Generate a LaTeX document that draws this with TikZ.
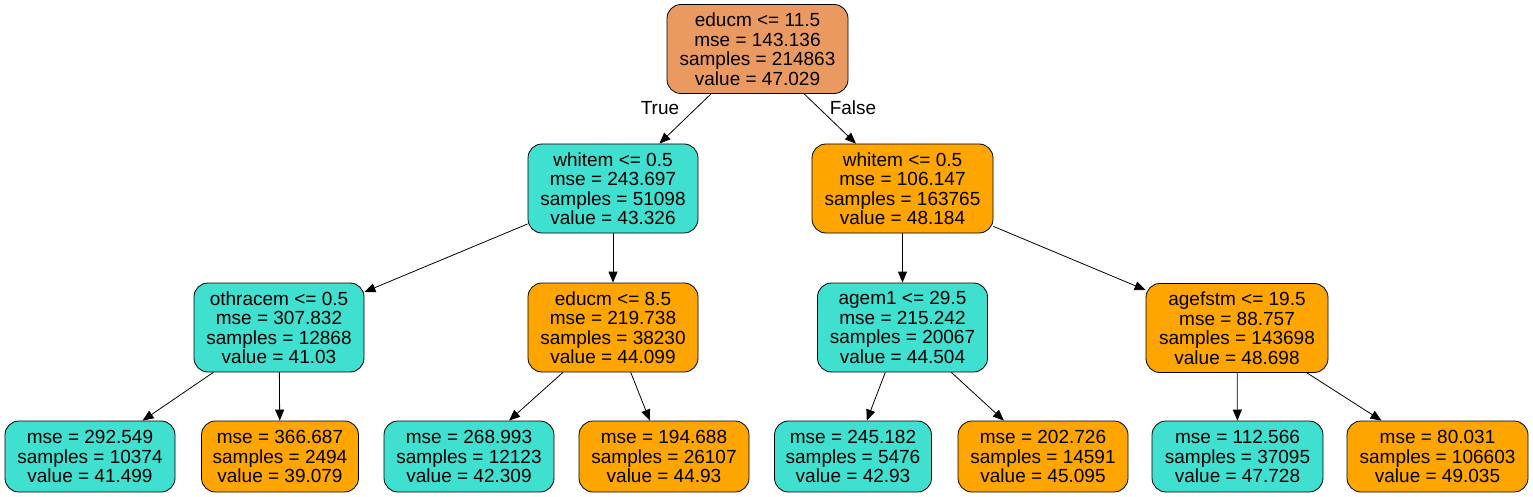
\documentclass[tikz,border=0pt]{standalone}
\usepackage{fontspec}
\setmainfont{Liberation Sans}
\usetikzlibrary{arrows.meta}
\definecolor{turq}{HTML}{40E0D0}
\definecolor{orng}{HTML}{FFA500}
\definecolor{rootc}{HTML}{EA9A60}
\begin{document}
\begin{tikzpicture}[x=1pt,y=-1pt,
  tnode/.style={draw=black, line width=0.8pt, rounded corners=14pt, align=center, inner sep=0pt,
    font=\fontsize{19}{19.5}\selectfont, text=black},
  four/.style={tnode, minimum height=89pt},
  three/.style={tnode, minimum height=71pt},
  tq/.style={fill=turq},
  og/.style={fill=orng},
  edge/.style={draw=black, line width=0.8pt, -{Triangle[length=11pt,width=9pt]}},
  elab/.style={font=\fontsize{19}{19.5}\selectfont, text=black}]
\useasboundingbox (0,0) rectangle (1533,497);
\fill[white] (0,0) rectangle (1533,497);
% level 1
\node[four, fill=rootc, minimum width=181pt] (n0) at (757.5,49) {educm <= 11.5\\mse = 143.136\\samples = 214863\\value = 47.029};
% level 2
\node[four, tq, minimum width=170pt] (n1) at (613,188.5) {whitem <= 0.5\\mse = 243.697\\samples = 51098\\value = 43.326};
\node[four, og, minimum width=181pt] (n8) at (902.5,188.5) {whitem <= 0.5\\mse = 106.147\\samples = 163765\\value = 48.184};
% level 3
\node[four, tq, minimum width=170pt] (n2) at (279,327.5) {othracem <= 0.5\\mse = 307.832\\samples = 12868\\value = 41.03};
\node[four, og, minimum width=170pt] (n5) at (613,327.5) {educm <= 8.5\\mse = 219.738\\samples = 38230\\value = 44.099};
\node[four, tq, minimum width=170pt] (n9) at (902.5,327.5) {agem1 <= 29.5\\mse = 215.242\\samples = 20067\\value = 44.504};
\node[four, og, minimum width=182pt] (n12) at (1237,328) {agefstm <= 19.5\\mse = 88.757\\samples = 143698\\value = 48.698};
% leaves
\node[three, tq, minimum width=170pt] (n3) at (90,456.5) {mse = 292.549\\samples = 10374\\value = 41.499};
\node[three, og, minimum width=157pt] (n4) at (280,456.5) {mse = 366.687\\samples = 2494\\value = 39.079};
\node[three, tq, minimum width=170pt] (n6) at (469,456.5) {mse = 268.993\\samples = 12123\\value = 42.309};
\node[three, og, minimum width=170pt] (n7) at (664,456.5) {mse = 194.688\\samples = 26107\\value = 44.93};
\node[three, tq, minimum width=157pt] (n10) at (853,456.5) {mse = 245.182\\samples = 5476\\value = 42.93};
\node[three, og, minimum width=170pt] (n11) at (1043,456.5) {mse = 202.726\\samples = 14591\\value = 45.095};
\node[three, tq, minimum width=171pt] (n13) at (1237.5,456.5) {mse = 112.566\\samples = 37095\\value = 47.728};
\node[three, og, minimum width=181pt] (n14) at (1437.5,456.5) {mse = 80.031\\samples = 106603\\value = 49.035};
% edges
\draw[edge] (n0) -- (n1);
\draw[edge] (n0) -- (n8);
\draw[edge] (n1) -- (n2);
\draw[edge] (n1) -- (n5);
\draw[edge] (n8) -- (n9);
\draw[edge] (n8) -- (n12);
\draw[edge] (n2) -- (n3);
\draw[edge] (n2) -- (n4);
\draw[edge] (n5) -- (n6);
\draw[edge] (n5) -- (n7);
\draw[edge] (n9) -- (n10);
\draw[edge] (n9) -- (n11);
\draw[edge] (n12) -- (n13);
\draw[edge] (n12) -- (n14);
% edge labels
\node[elab] (lt) at (660,108) {True};
\node[elab] (lf) at (853,108) {False};
\end{tikzpicture}
\end{document}
